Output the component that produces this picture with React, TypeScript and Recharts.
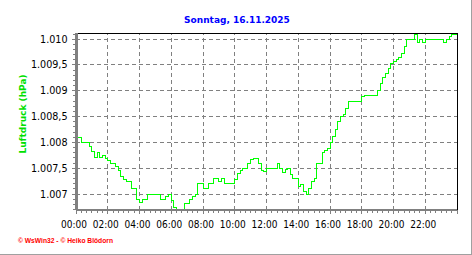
import { LineChart, Line, XAxis, YAxis, ReferenceLine } from "recharts"

const W = 472
const H = 255

const TITLE = "Sonntag, 16.11.2025"
const Y_LABEL = "Luftdruck (hPa)"
const FOOTER = "© WsWin32 - © Heiko Blödorn"

// one reading every 10 minutes, 00:00 .. 24:00 (hPa)
const SAMPLE_MINUTES = 10
const PRESSURE = [
  1008.1, 1008.1, 1008.0, 1008.0, 1008.0, 1007.92, 1007.82, 1007.7, 1007.8, 1007.7, 1007.75, 1007.69,
  1007.65, 1007.6, 1007.6, 1007.53, 1007.45, 1007.33, 1007.28, 1007.24, 1007.24, 1007.11, 1007.11, 1006.9,
  1006.83, 1006.89, 1006.89, 1007.0, 1007.0, 1007.0, 1007.0, 1007.0, 1006.9, 1006.9, 1006.95, 1007.0,
  1006.87, 1006.74, 1006.7, 1006.7, 1006.7, 1006.81, 1006.81, 1006.89, 1006.95, 1007.0, 1007.21, 1007.21,
  1007.11, 1007.11, 1007.21, 1007.21, 1007.31, 1007.31, 1007.25, 1007.31, 1007.21, 1007.21, 1007.21, 1007.21,
  1007.28, 1007.4, 1007.45, 1007.5, 1007.5, 1007.6, 1007.66, 1007.69, 1007.69, 1007.6, 1007.45, 1007.43,
  1007.5, 1007.5, 1007.5, 1007.5, 1007.6, 1007.5, 1007.42, 1007.48, 1007.5, 1007.38, 1007.31, 1007.31,
  1007.15, 1007.18, 1007.05, 1007.0, 1007.11, 1007.25, 1007.3, 1007.6, 1007.6, 1007.8, 1007.85, 1007.89,
  1008.0, 1008.12, 1008.25, 1008.41, 1008.5, 1008.55, 1008.65, 1008.8, 1008.8, 1008.8, 1008.8, 1008.8,
  1008.88, 1008.91, 1008.91, 1008.91, 1008.91, 1008.91, 1009.0, 1009.15, 1009.25, 1009.34, 1009.44, 1009.52,
  1009.57, 1009.6, 1009.65, 1009.72, 1009.86, 1010.0, 1010.0, 1010.0, 1010.1, 1009.93, 1010.0, 1009.93,
  1010.0, 1010.0, 1010.0, 1010.0, 1010.0, 1010.0, 1010.0, 1009.93, 1010.0, 1010.05, 1010.1, 1010.1,
  1010.1,
]

const HOUR_LABELS = [
  "00:00", "02:00", "04:00", "06:00", "08:00", "10:00",
  "12:00", "14:00", "16:00", "18:00", "20:00", "22:00",
]
const GRID_MINUTES = [120, 240, 360, 480, 600, 720, 840, 960, 1080, 1200, 1320]
const PRESSURE_TICKS = [1007, 1007.5, 1008, 1008.5, 1009, 1009.5, 1010]

const X_DOMAIN = [0, 1440]
const Y_DOMAIN = [1006.69, 1010.12]

// minor ticks: every 20 min on the time axis, every 0.1 hPa on the pressure axis
const X_MINOR = Array.from({ length: 73 }, (_, i) => i * 20)
const Y_MINOR = Array.from({ length: 35 }, (_, i) => Math.round((1006.7 + i * 0.1) * 10) / 10)

const data = PRESSURE.map((p, i) => ({ t: i * SAMPLE_MINUTES, p }))

const AXIS_GRAY = "#808080"
const LINE_GREEN = "#00FF00"

// German number format: 1007.5 -> "1.007,5"
function fmtPressure(v: number) {
  const [int, dec] = v.toFixed(1).split(".")
  const grouped = int.slice(0, int.length - 3) + "." + int.slice(-3)
  return dec === "0" ? grouped : grouped + "," + dec
}

function TimeTick(props: any) {
  const { x, y, payload } = props
  const v = payload.value as number
  const major = v % 120 === 0
  const idx = v / 120
  return (
    <g>
      <line x1={x} x2={x} y1={y} y2={y + (major ? 4 : 2.5)} stroke={AXIS_GRAY} />
      {major && idx < HOUR_LABELS.length && (
        <text
          x={x - 2}
          y={y + 17.5}
          textAnchor="middle"
          fontFamily="'Liberation Sans Narrow', 'DejaVu Sans Condensed', 'Liberation Sans', sans-serif"
          fontSize={10}
          fill="#000"
        >
          {HOUR_LABELS[idx]}
        </text>
      )}
    </g>
  )
}

function PressureTick(props: any) {
  const { x, y, payload } = props
  const v = payload.value as number
  const major = PRESSURE_TICKS.some((t) => Math.abs(t - v) < 0.001)
  return (
    <g>
      <line x1={x - (major ? 4.5 : 3)} x2={x} y1={y} y2={y} stroke={AXIS_GRAY} />
      {major && (
        <text
          x={x - 8.5}
          y={y + 3.5}
          textAnchor="end"
          fontFamily="'DejaVu Sans', sans-serif"
          fontSize={9.6}
          fill="#000"
        >
          {fmtPressure(v)}
        </text>
      )}
    </g>
  )
}

export default function App() {
  return (
    <div
      style={{
        position: "absolute",
        left: 0,
        top: 0,
        width: W,
        height: H,
        background: "#fff",
        shapeRendering: "crispEdges",
      }}
    >
      <LineChart
        width={W}
        height={H}
        data={data}
        margin={{ top: 33, right: 15, bottom: 0, left: 0 }}
      >
        <XAxis
          dataKey="t"
          type="number"
          domain={X_DOMAIN}
          ticks={X_MINOR}
          interval={0}
          height={45}
          tickSize={0}
          tickMargin={0}
          tickLine={false}
          tick={TimeTick}
          axisLine={{ stroke: AXIS_GRAY, strokeWidth: 2.5 }}
          allowDataOverflow
        />
        <YAxis
          type="number"
          domain={Y_DOMAIN}
          ticks={Y_MINOR}
          interval={0}
          width={76}
          tickSize={0}
          tickMargin={0}
          tickLine={false}
          tick={PressureTick}
          axisLine={{ stroke: AXIS_GRAY, strokeWidth: 3 }}
          allowDataOverflow
        />

        {PRESSURE_TICKS.map((v) => (
          <ReferenceLine key={`h${v}`} y={v} stroke={AXIS_GRAY} strokeDasharray="4 3" />
        ))}
        {GRID_MINUTES.map((m) => (
          <ReferenceLine key={`v${m}`} x={m} stroke={AXIS_GRAY} strokeDasharray="4 3" />
        ))}
        <ReferenceLine y={Y_DOMAIN[1]} stroke="#000" />
        <ReferenceLine x={X_DOMAIN[1]} stroke="#000" />

        <Line
          type="stepAfter"
          dataKey="p"
          stroke={LINE_GREEN}
          strokeWidth={1}
          dot={false}
          activeDot={false}
          isAnimationActive={false}
        />
      </LineChart>

      <svg
        width={W}
        height={H}
        style={{ position: "absolute", left: 0, top: 0, pointerEvents: "none" }}
      >
        <text
          x={237}
          y={23}
          textAnchor="middle"
          fontFamily="'DejaVu Sans', sans-serif"
          fontWeight="bold"
          fontSize={9}
          fill="#0000FF"
        >
          {TITLE}
        </text>
        <text
          transform="translate(26, 114) rotate(-90)"
          textAnchor="middle"
          fontFamily="'DejaVu Sans', sans-serif"
          fontWeight="bold"
          fontSize={9}
          fill="#00E000"
        >
          {Y_LABEL}
        </text>
        <text
          x={18}
          y={243}
          textLength={95}
          lengthAdjust="spacingAndGlyphs"
          fontFamily="'Liberation Sans', sans-serif"
          fontWeight="bold"
          fontSize={6.5}
          fill="#FF0000"
        >
          {FOOTER}
        </text>
        <rect x={471} y={0} width={1} height={H} fill="#A0A0A0" />
        <rect x={0} y={254} width={W} height={1} fill="#A0A0A0" />
      </svg>
    </div>
  )
}
